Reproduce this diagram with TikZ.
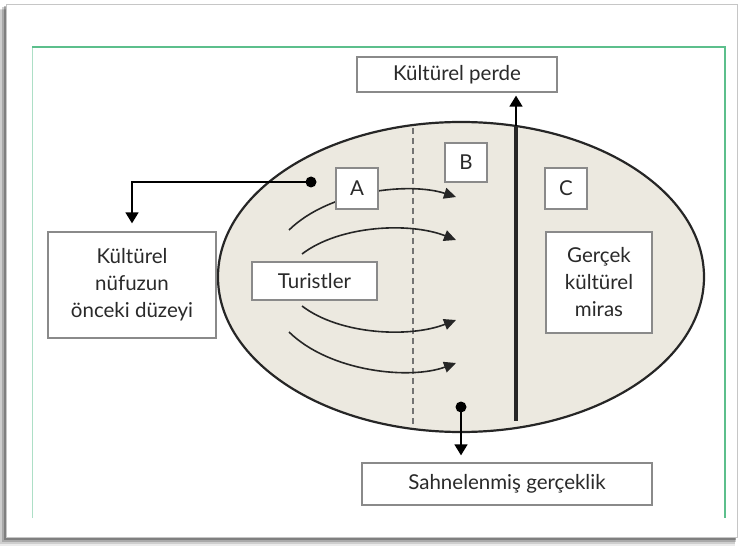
\documentclass[tikz,border=0pt]{standalone}
\usepackage{fontspec}
\setmainfont{Lato}
\usetikzlibrary{arrows.meta,shapes.geometric}
\definecolor{ellfill}{HTML}{ECE9E0}
\definecolor{frgreen}{HTML}{5CBF8C}
\definecolor{boxgray}{HTML}{8A8A8A}
\definecolor{txt}{HTML}{2A2A2A}
\begin{document}
\begin{tikzpicture}[x=1pt,y=-1pt,
  lbl/.style={draw=boxgray, line width=1.3pt, fill=white, text=txt,
    font=\fontsize{20.5}{27}\selectfont, inner sep=0pt, align=center},
  flow/.style={line width=1.6pt, draw=black!85, -{Triangle[length=12pt,width=11pt]}},
  conn/.style={line width=1.6pt, draw=black, -{Triangle[length=11pt,width=13pt]}},
  dotmark/.style={circle, fill=black, inner sep=0pt, minimum size=11pt}]
\useasboundingbox (0,0) rectangle (747,548);
% card with shadow
\foreach \o/\a in {8/0.08,6/0.12,4/0.18,2/0.25}{
  \fill[black, opacity=\a] (6-\o,5+\o*0.6) rectangle (737-\o*0.3,538+\o);
}
\draw[gray!45, fill=white, line width=0.8pt] (6,4) rectangle (737,537);
% green frame
\draw[frgreen!50, line width=1pt] (32,518) -- (32,47);
\draw[frgreen, line width=1.6pt] (32,47) -- (725,47) -- (725,518);
% ellipse
\node[ellipse, draw=black!85, fill=ellfill, line width=2.2pt,
  minimum width=486pt, minimum height=310pt, inner sep=0pt] (ell) at (461,277) {};
\coordinate (ptop) at (516,126);
\coordinate (pbot) at (516,421);
\coordinate (dtop) at (413,128);
\coordinate (dbot) at (413,427);
\draw[black!55, line width=1.1pt, dash pattern=on 6pt off 4pt] (dtop) -- (dbot);
\draw[black!85, line width=3.2pt] (ptop) -- (pbot);
% tourist flows
\coordinate (f1s) at (289,230); \coordinate (f1e) at (456,197);
\coordinate (f2s) at (302,254); \coordinate (f2e) at (456,240);
\coordinate (f3s) at (302,306); \coordinate (f3e) at (456,320);
\coordinate (f4s) at (289,332); \coordinate (f4e) at (456,363);
\draw[flow] (f1s) .. controls (330,190) and (410,182) .. (f1e);
\draw[flow] (f2s) .. controls (340,225) and (410,222) .. (f2e);
\draw[flow] (f3s) .. controls (340,335) and (410,338) .. (f3e);
\draw[flow] (f4s) .. controls (330,372) and (410,380) .. (f4e);
% boxes
\node[lbl, minimum width=200pt, minimum height=35pt] (perde) at (457,74.5) {Kültürel perde};
\node[lbl, minimum width=42pt, minimum height=41pt] (A) at (357,188.5) {A};
\node[lbl, minimum width=42pt, minimum height=39pt] (B) at (466,162.5) {B};
\node[lbl, minimum width=42pt, minimum height=41pt] (C) at (566,188.5) {C};
\node[lbl, minimum width=125pt, minimum height=38pt] (tur) at (314.5,281) {Turistler};
\node[lbl, minimum width=168pt, minimum height=106pt] (kult) at (132,285) {Kültürel\\nüfuzun\\önceki düzeyi};
\node[lbl, minimum width=106pt, minimum height=101pt] (gercek) at (599,282.5) {Gerçek\\kültürel\\miras};
\node[lbl, minimum width=290pt, minimum height=42pt] (sahne) at (507,484) {Sahnelenmiş gerçeklik};
% dots and connectors
\node[dotmark] (dotA) at (311,182) {};
\node[dotmark] (dotB) at (461,407) {};
\draw[conn, shorten >=8pt] (dotA.center) -| (kult.north);
\draw[conn, shorten >=7pt] (dotB.center) -- (dotB |- sahne.north);
\draw[conn, shorten >=3pt] (ptop) -- (ptop |- perde.south);
\end{tikzpicture}
\end{document}
